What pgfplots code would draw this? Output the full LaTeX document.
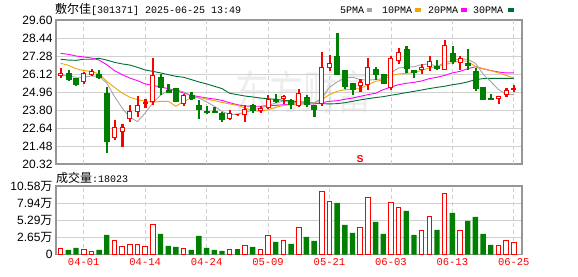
\documentclass[border=0pt]{standalone}
\usepackage{pgfplots}
\pgfplotsset{compat=1.18}
\usepackage{pgfplotstable}
\usepackage{fontspec}
\setmainfont{Liberation Sans}
\newfontfamily\cjk{Noto Sans CJK SC}
\newfontfamily\mono{Liberation Mono}
\definecolor{kred}{RGB}{255,0,0}
\definecolor{kgreen}{RGB}{0,128,0}
\definecolor{ma5c}{RGB}{165,165,165}
\definecolor{ma10c}{RGB}{245,165,0}
\definecolor{ma20c}{RGB}{255,0,255}
\definecolor{ma30c}{RGB}{0,110,50}
\definecolor{gridc}{RGB}{208,208,208}
\definecolor{framec}{RGB}{150,150,150}

% up candles (close >= open): index open high low close volume(10k)
\pgfplotstableread{
i o h l c v
0 26.03 26.51 25.91 26.16 0.92
3 25.65 26.25 25.52 26.12 0.82
4 26.08 26.44 26.03 26.29 0.51
7 22.04 23.16 21.95 22.70 2.21
8 22.43 22.90 21.44 22.70 1.28
9 23.28 24.10 23.07 23.71 1.59
10 23.71 24.68 23.43 24.10 1.59
11 24.21 24.47 23.97 24.27 1.28
12 24.36 27.15 24.19 26.03 4.67
16 24.25 24.83 24.10 24.75 0.98
22 23.22 23.76 23.18 23.60 0.72
23 23.48 23.55 23.45 23.48 nan
24 23.50 24.10 23.07 23.80 1.44
26 23.76 24.04 23.67 23.89 0.72
27 23.97 24.75 23.89 24.49 2.98
29 24.53 24.75 24.27 24.66 2.11
31 24.10 25.15 24.02 24.87 4.21
34 24.19 27.52 24.10 26.55 9.76
35 26.51 27.32 26.34 26.81 8.22
39 25.37 25.80 25.00 25.60 4.21
40 25.43 27.11 25.11 26.55 8.83
43 25.28 27.28 25.15 27.15 8.06
44 26.98 27.80 26.81 27.50 7.29
47 26.38 26.72 26.16 26.57 3.75
48 26.61 27.24 26.34 26.94 5.91
50 26.42 28.27 26.40 27.93 9.45
52 26.83 27.28 26.46 27.11 3.75
57 24.57 24.70 24.27 24.70 1.44
58 24.79 25.18 24.66 25.05 2.11
59 25.09 25.39 25.00 25.18 1.80
}\candleup

% down candles (close < open)
\pgfplotstableread{
i o h l c v
1 26.12 26.34 25.73 25.82 0.72
2 25.80 25.80 25.37 25.52 1.03
5 26.06 26.38 25.86 25.93 0.72
6 24.83 25.26 21.05 21.82 3.03
13 25.91 26.08 24.83 25.30 3.18
14 25.07 25.48 24.96 24.98 1.34
15 25.15 25.22 24.36 24.42 1.18
17 24.75 24.96 24.49 24.57 0.72
18 24.10 24.40 23.28 23.89 2.88
19 23.71 24.04 23.61 23.69 1.03
20 23.70 23.97 23.65 23.67 0.72
21 23.54 23.65 23.07 23.24 0.56
25 24.06 24.19 23.67 23.84 1.18
28 24.49 24.79 24.32 24.40 1.95
30 24.42 24.49 23.93 24.21 1.64
32 24.62 24.75 24.02 24.19 2.72
33 24.10 24.10 23.37 23.89 2.11
36 27.26 28.76 26.08 26.12 7.96
37 26.36 26.36 25.22 25.39 4.57
38 25.52 25.52 24.79 25.15 3.34
41 26.38 26.55 25.76 26.14 5.03
42 26.06 26.08 25.52 25.58 3.18
45 27.71 27.93 26.25 26.51 6.73
46 26.34 26.34 25.91 26.27 3.03
49 26.61 27.02 26.40 26.55 3.80
51 27.41 27.93 26.83 26.98 6.42
53 26.81 27.75 26.46 26.72 5.19
54 26.25 26.51 25.05 25.26 5.80
55 25.22 25.22 24.53 24.53 3.18
56 24.55 24.79 24.49 24.51 1.49
}\candledn

% moving averages
\pgfplotstableread{
i m5 m10 m20 m30
0 26.03 26.81 27.45 27.07
1 25.99 26.68 27.39 27.02
2 25.91 26.46 27.28 27.00
3 25.91 26.34 27.22 27.07
4 25.99 26.29 27.15 27.07
5 25.97 26.12 27.02 27.13
6 25.54 25.65 26.72 27.02
7 24.68 25.26 26.34 26.87
8 23.93 24.90 26.08 26.77
9 23.33 24.62 25.86 26.70
10 23.05 24.47 25.69 26.55
11 23.61 24.36 25.48 26.38
12 24.25 24.29 25.39 26.29
13 24.75 24.36 25.28 26.19
14 25.05 24.36 25.18 26.08
15 25.11 24.04 25.05 25.97
16 24.96 24.36 24.90 25.91
17 24.75 24.57 24.75 25.76
18 24.57 24.62 24.66 25.61
19 24.32 24.51 24.57 25.48
20 24.04 24.40 24.51 25.33
21 23.71 24.29 24.42 25.18
22 23.50 24.19 24.27 24.88
23 23.54 24.10 24.14 24.79
24 23.65 23.93 24.06 24.70
25 23.80 23.76 24.04 24.64
26 23.93 23.71 24.04 24.57
27 24.10 23.82 24.08 24.53
28 24.25 23.97 24.10 24.49
29 24.36 24.10 24.14 24.42
30 24.32 24.14 24.17 24.38
31 24.25 24.19 24.19 24.34
32 24.27 24.19 24.19 24.29
33 24.25 24.25 24.19 24.25
34 24.57 24.47 24.27 24.21
35 25.26 24.79 24.36 24.19
36 25.61 25.00 24.40 24.21
37 25.86 25.11 24.49 24.27
38 25.91 25.15 24.57 24.36
39 25.76 25.18 24.68 24.45
40 25.73 25.43 24.79 24.53
41 25.76 25.65 24.88 24.60
42 25.82 25.73 25.11 24.66
43 26.19 26.03 25.28 24.75
44 26.51 26.12 25.43 24.83
45 26.55 26.16 25.52 24.92
46 26.59 26.21 25.58 25.00
47 26.72 26.36 25.67 25.09
48 26.77 26.51 25.82 25.18
49 26.61 26.59 25.91 25.26
50 26.85 26.72 26.03 25.33
51 26.98 26.85 26.19 25.43
52 27.09 26.98 26.29 25.50
53 27.07 26.94 26.46 25.61
54 26.81 26.61 26.59 25.76
55 26.12 26.46 26.46 25.82
56 25.63 26.34 26.34 25.84
57 25.13 26.19 26.25 25.84
58 24.81 26.03 26.19 25.84
59 24.79 25.86 26.19 25.84
}\matab

\pgfplotsset{
  kbase/.style={
    scale only axis, width=466pt,
    xmin=-0.61, xmax=60.07,
    xtick=\empty,
    extra x ticks={3,11,19,27,35,43,51,59},
    ymajorgrids,
    major grid style={draw=gridc, line width=0.8pt},
    major tick length=0pt,
    tick style={draw=none},
    tick label style={font=\fontsize{12}{12}\selectfont},
    axis line style={draw=framec, line width=1.5pt},
  },
  candle/.style={forget plot, only marks, scatter,
    mark=*, mark size=0.01pt, mark options={draw=none, fill=none},
    scatter/@post marker code/.code={},
  },
}

\begin{document}
\begin{tikzpicture}
\useasboundingbox (0,0) rectangle (578pt,-276pt);
\node[text=black!7, font=\cjk\fontsize{34}{34}\selectfont, yscale=1.35] at (303pt,-92pt) {东方财富};

\node[anchor=base west, inner sep=0pt] at (55pt,-13pt)
  {{\cjk\fontsize{12}{12}\selectfont 敷尔佳}{\mono\fontsize{10}{10}\selectfont[301371] 2025-06-25 13:49}};
\node[anchor=base west, inner sep=0pt, font=\mono\fontsize{10}{10}\selectfont] at (340pt,-13pt) {5PMA};
\fill[ma5c] (367pt,-8pt) rectangle (372pt,-12pt);
\node[anchor=base west, inner sep=0pt, font=\mono\fontsize{10}{10}\selectfont] at (382pt,-13pt) {10PMA};
\fill[ma10c] (415pt,-8pt) rectangle (421pt,-12pt);
\node[anchor=base west, inner sep=0pt, font=\mono\fontsize{10}{10}\selectfont] at (428pt,-13pt) {20PMA};
\fill[ma20c] (461pt,-8pt) rectangle (467pt,-12pt);
\node[anchor=base west, inner sep=0pt, font=\mono\fontsize{10}{10}\selectfont] at (473pt,-13pt) {30PMA};
\fill[ma30c] (508pt,-8pt) rectangle (514pt,-12pt);

\begin{axis}[kbase,
  at={(56pt,-20pt)}, anchor=north west, height=144pt,
  ymin=20.32, ymax=29.60,
  extra x tick labels={},
  extra x tick style={grid=major, major grid style={draw=gridc, line width=0.8pt, dash pattern=on 4pt off 3pt}},
  ytick={20.32,21.48,22.64,23.80,24.96,26.12,27.28,28.44,29.60},
  yticklabels={20.32,21.48,22.64,23.80,24.96,26.12,27.28,28.44,29.60},
]
% up candles, anchored at the close; 15.5172pt per price unit
\addplot[candle,
  visualization depends on={(\thisrow{h}-\thisrow{c})*15.5172 \as \dh},
  visualization depends on={(\thisrow{l}-\thisrow{c})*15.5172 \as \dl},
  visualization depends on={(\thisrow{o}-\thisrow{c})*15.5172 \as \db},
  scatter/@pre marker code/.code={%
    \fill[kred] (-0.6pt,\dh pt) rectangle (0.6pt,\dl pt);
    \filldraw[fill=white, draw=kred, line width=1pt] (-2pt,0pt) rectangle (2pt,\db pt);
  }] table[x=i, y=c] {\candleup};
% down candles, anchored at the open
\addplot[candle,
  visualization depends on={(\thisrow{h}-\thisrow{o})*15.5172 \as \dh},
  visualization depends on={(\thisrow{l}-\thisrow{o})*15.5172 \as \dl},
  visualization depends on={(\thisrow{c}-\thisrow{o})*15.5172-0.5 \as \db},
  scatter/@pre marker code/.code={%
    \fill[kgreen] (-0.6pt,\dh pt) rectangle (0.6pt,\dl pt);
    \fill[kgreen] (-2.5pt,0.5pt) rectangle (2.5pt,\db pt);
  }] table[x=i, y=o] {\candledn};
% moving averages
\addplot[ma30c, line width=0.9pt, mark=none] table[x=i, y=m30] {\matab};
\addplot[ma20c, line width=0.9pt, mark=none] table[x=i, y=m20] {\matab};
\addplot[ma10c, line width=0.9pt, mark=none] table[x=i, y=m10] {\matab};
\addplot[ma5c, line width=0.9pt, mark=none] table[x=i, y=m5] {\matab};
\node[kred, font=\bfseries\fontsize{10}{10}\selectfont, anchor=south, inner sep=0pt] (smark) at (axis cs:39,20.40) {S};
\fill[kred] (smark.north) ++(-2.5pt,1pt) -- ++(5pt,0) -- ++(-2.5pt,3pt) -- cycle;
\end{axis}

\node[anchor=base west, inner sep=0pt] at (56pt,-182pt)
  {{\cjk\fontsize{12}{12}\selectfont 成交量}{\mono\fontsize{10}{10}\selectfont:18023}};

\begin{axis}[kbase,
  at={(56pt,-186pt)}, anchor=north west, height=68.5pt,
  ymin=0, ymax=10.58,
  ytick={0,2.645,5.29,7.935,10.58},
  yticklabels={0,{2.65\cjk 万},{5.29\cjk 万},{7.94\cjk 万},{10.58\cjk 万}},
  extra x tick labels={04-01,04-14,04-24,05-09,05-21,06-03,06-13,06-25},
  extra x tick style={grid=major, major grid style={draw=gridc, line width=0.8pt, dash pattern=on 4pt off 3pt},
    tick label style={text=kred, font=\mono\fontsize{10.5}{10.5}\selectfont}},
  ybar,
]
\addplot[ybar, bar shift=0pt, bar width=4.6pt, draw=kred, fill=white, line width=1pt] table[x=i, y=v] {\candleup};
\addplot[ybar, bar shift=0pt, bar width=5.4pt, draw=none, fill=kgreen] table[x=i, y=v] {\candledn};
\addplot[ybar, bar shift=0pt, bar width=5.4pt, draw=none, fill=kgreen] coordinates {(23,0.87)};
\end{axis}
\end{tikzpicture}
\end{document}
